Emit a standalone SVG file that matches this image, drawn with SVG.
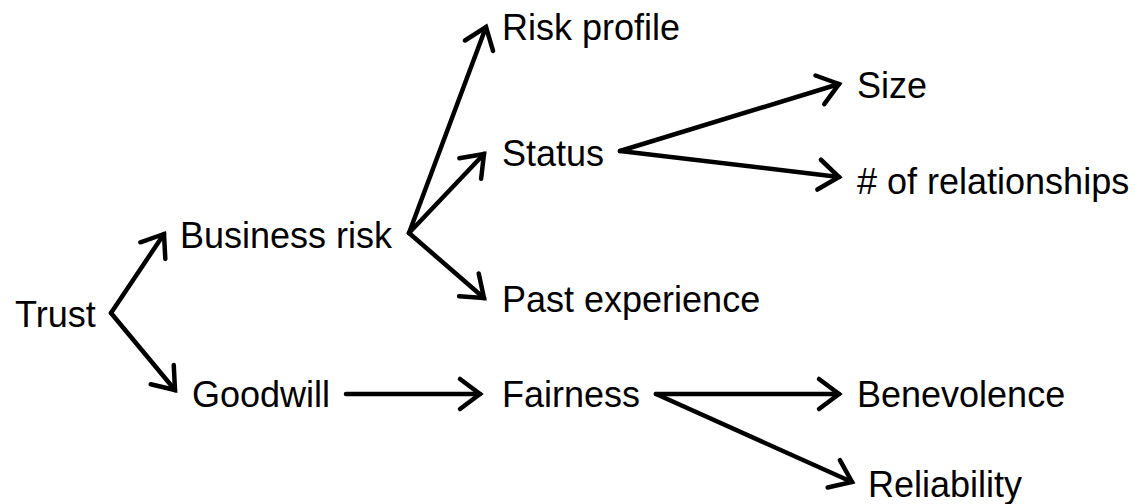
<svg xmlns="http://www.w3.org/2000/svg" width="1138" height="504" viewBox="0 0 1138 504">
  <style>
    .lbl { font-family: "Liberation Sans", Arial, sans-serif; font-size: 36px; fill: #000; }
    .edge { stroke: #000; stroke-width: 4.5; fill: none; stroke-linecap: round; marker-end: url(#head); }
  </style>
  <defs>
    <marker id="head" markerUnits="userSpaceOnUse" viewBox="-28 -20 32 40" markerWidth="32" markerHeight="40" refX="0" refY="0" orient="auto" overflow="visible">
      <path d="M -20 -15 L 0 0 L -20 15" fill="none" stroke="#000" stroke-width="4.5" stroke-linecap="round" stroke-linejoin="miter"/>
    </marker>
  </defs>
  <rect width="1138" height="504" fill="#fff"/>

  <g id="connectors">
    <path class="edge" d="M 111 313 L 164 234"/>
    <path class="edge" d="M 111 313 L 175 390"/>
    <path class="edge" d="M 409 233 L 486 27"/>
    <path class="edge" d="M 409 233 L 484 154"/>
    <path class="edge" d="M 409 233 L 484 298"/>
    <path class="edge" d="M 620 151 L 839 84"/>
    <path class="edge" d="M 620 151 L 839 177"/>
    <path class="edge" d="M 346 394 L 480 394"/>
    <path class="edge" d="M 656 394 L 839 394"/>
    <path class="edge" d="M 656 394 L 852 482"/>
  </g>

  <g id="trust"><text class="lbl" x="15" y="327">Trust</text></g>
  <g id="business-risk"><text class="lbl" x="180" y="248">Business risk</text></g>
  <g id="goodwill"><text class="lbl" x="192" y="407">Goodwill</text></g>
  <g id="risk-profile"><text class="lbl" x="502" y="40">Risk profile</text></g>
  <g id="status"><text class="lbl" x="502" y="166">Status</text></g>
  <g id="past-experience"><text class="lbl" x="502" y="312">Past experience</text></g>
  <g id="fairness"><text class="lbl" x="502" y="407">Fairness</text></g>
  <g id="size"><text class="lbl" x="857" y="98">Size</text></g>
  <g id="relationships"><text class="lbl" x="857" y="194"># of relationships</text></g>
  <g id="benevolence"><text class="lbl" x="857" y="407">Benevolence</text></g>
  <g id="reliability"><text class="lbl" x="868" y="497">Reliability</text></g>
</svg>
